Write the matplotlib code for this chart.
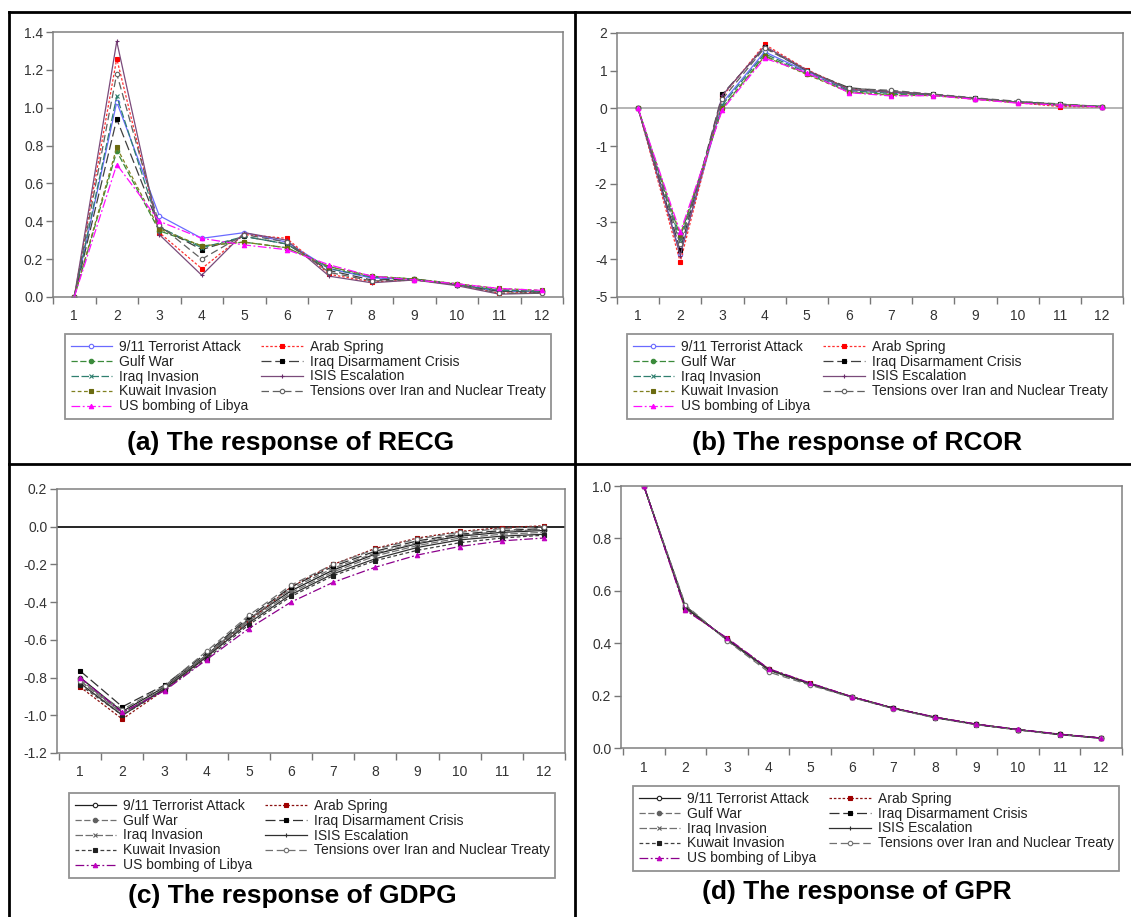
import matplotlib
matplotlib.use('Agg')
import matplotlib.pyplot as plt
from matplotlib.lines import Line2D
import numpy as np

plt.rcParams['font.family'] = ['Liberation Sans', 'DejaVu Sans']
plt.rcParams['axes.unicode_minus'] = False

# Horizon 1..12
periods = list(range(1, 13))

series_names = [
    '9/11 Terrorist Attack', 'Arab Spring', 'Gulf War',
    'Iraq Disarmament Crisis', 'Iraq Invasion', 'ISIS Escalation',
    'Kuwait Invasion', 'Tensions over Iran and Nuclear Treaty',
    'US bombing of Libya',
]

# (a) response of RECG, one row per series (same order as series_names)
recg = [
    [0, 1.03, 0.43, 0.31, 0.34, 0.29, 0.15, 0.10, 0.095, 0.065, 0.03, 0.03],
    [0, 1.26, 0.34, 0.15, 0.33, 0.31, 0.12, 0.08, 0.09, 0.065, 0.02, 0.025],
    [0, 0.77, 0.35, 0.27, 0.29, 0.26, 0.16, 0.11, 0.095, 0.07, 0.04, 0.03],
    [0, 0.94, 0.37, 0.25, 0.32, 0.28, 0.14, 0.09, 0.095, 0.065, 0.03, 0.025],
    [0, 1.06, 0.37, 0.26, 0.32, 0.28, 0.15, 0.105, 0.095, 0.065, 0.035, 0.03],
    [0, 1.35, 0.33, 0.115, 0.34, 0.30, 0.11, 0.075, 0.09, 0.06, 0.015, 0.02],
    [0, 0.79, 0.36, 0.27, 0.29, 0.26, 0.16, 0.11, 0.095, 0.07, 0.045, 0.035],
    [0, 1.18, 0.38, 0.20, 0.33, 0.29, 0.13, 0.085, 0.09, 0.065, 0.02, 0.02],
    [0, 0.70, 0.40, 0.31, 0.275, 0.25, 0.17, 0.11, 0.09, 0.07, 0.045, 0.035],
]

# (b) response of RCOR
rcor = [
    [0, -3.85, 0.15, 1.50, 0.98, 0.50, 0.42, 0.36, 0.26, 0.17, 0.10, 0.05],
    [0, -4.07, 0.32, 1.70, 1.03, 0.52, 0.42, 0.36, 0.25, 0.15, 0.05, 0.04],
    [0, -3.40, 0.02, 1.40, 0.92, 0.44, 0.37, 0.35, 0.25, 0.16, 0.10, 0.05],
    [0, -3.75, 0.38, 1.62, 1.00, 0.55, 0.45, 0.37, 0.27, 0.18, 0.11, 0.05],
    [0, -3.50, 0.10, 1.45, 0.95, 0.47, 0.40, 0.36, 0.26, 0.17, 0.10, 0.05],
    [0, -3.90, 0.35, 1.65, 1.02, 0.50, 0.44, 0.37, 0.26, 0.16, 0.08, 0.04],
    [0, -3.35, 0.00, 1.38, 0.90, 0.43, 0.35, 0.34, 0.24, 0.15, 0.10, 0.05],
    [0, -3.60, 0.25, 1.60, 1.00, 0.53, 0.48, 0.38, 0.28, 0.19, 0.12, 0.05],
    [0, -3.28, -0.03, 1.33, 0.95, 0.42, 0.33, 0.34, 0.24, 0.14, 0.09, 0.04],
]

# (c) response of GDPG
gdpg = [
    [-0.80, -0.98, -0.85, -0.68, -0.49, -0.34, -0.23, -0.145, -0.09, -0.05, -0.03, -0.02],
    [-0.85, -1.02, -0.865, -0.69, -0.50, -0.32, -0.20, -0.115, -0.06, -0.025, -0.005, 0.005],
    [-0.81, -0.99, -0.855, -0.68, -0.49, -0.33, -0.22, -0.14, -0.085, -0.045, -0.025, -0.015],
    [-0.765, -0.955, -0.84, -0.67, -0.48, -0.32, -0.21, -0.13, -0.075, -0.04, -0.02, -0.01],
    [-0.82, -0.99, -0.86, -0.685, -0.50, -0.35, -0.24, -0.155, -0.10, -0.06, -0.04, -0.03],
    [-0.83, -1.00, -0.86, -0.69, -0.51, -0.36, -0.25, -0.17, -0.11, -0.07, -0.05, -0.04],
    [-0.84, -1.00, -0.865, -0.70, -0.52, -0.37, -0.26, -0.18, -0.125, -0.085, -0.06, -0.045],
    [-0.82, -0.97, -0.845, -0.66, -0.47, -0.31, -0.20, -0.12, -0.065, -0.03, -0.01, 0.0],
    [-0.80, -0.985, -0.87, -0.705, -0.54, -0.40, -0.295, -0.215, -0.15, -0.105, -0.075, -0.06],
]

# (d) response of GPR
gpr = [
    [1.0, 0.535, 0.415, 0.300, 0.245, 0.195, 0.152, 0.117, 0.090, 0.070, 0.052, 0.038],
    [1.0, 0.528, 0.418, 0.302, 0.247, 0.196, 0.153, 0.118, 0.091, 0.070, 0.053, 0.038],
    [1.0, 0.540, 0.413, 0.298, 0.244, 0.194, 0.151, 0.116, 0.090, 0.069, 0.052, 0.037],
    [1.0, 0.538, 0.414, 0.299, 0.245, 0.195, 0.152, 0.117, 0.090, 0.070, 0.052, 0.038],
    [1.0, 0.532, 0.416, 0.301, 0.246, 0.195, 0.152, 0.117, 0.090, 0.070, 0.052, 0.038],
    [1.0, 0.536, 0.415, 0.300, 0.245, 0.195, 0.152, 0.117, 0.090, 0.070, 0.052, 0.038],
    [1.0, 0.542, 0.412, 0.297, 0.243, 0.194, 0.151, 0.116, 0.089, 0.069, 0.051, 0.037],
    [1.0, 0.546, 0.410, 0.290, 0.240, 0.193, 0.150, 0.115, 0.089, 0.069, 0.051, 0.037],
    [1.0, 0.526, 0.420, 0.303, 0.248, 0.196, 0.153, 0.118, 0.091, 0.071, 0.053, 0.038],
]

# line styles (colour panels a/b, grey panels c/d)
colors_col = ['#6a6aff', '#ff3030', '#3a8a3a', '#404040', '#2f7f6f',
              '#7a4a7a', '#808020', '#606060', '#ff10ff']
colors_mono = ['#202020', '#8b1010', '#707070', '#303030', '#707070',
               '#303030', '#404040', '#707070', '#8b008b']
mface_col = ['white', '#ff0000', '#3a8a3a', '#000000', '#2f7f6f',
             '#6b2d6b', '#6b6b10', 'white', '#ff00ff']
mface_mono = ['white', '#a00000', '#606060', '#000000', '#606060',
              '#303030', '#202020', 'white', '#c000c0']
styles = ['-', (0, (2, 1.5)), (0, (5, 2)), (0, (8, 3)), (0, (6, 2)),
          '-', (0, (3, 2)), (0, (6, 3)), (0, (7, 2, 1.5, 2))]
markers = ['o', 's', 'o', 's', 'x', '+', 's', 'o', '^']

W, H = 1131, 917
fig = plt.figure(figsize=(W / 100, H / 100), dpi=100)


def px_axes(l, t, r, b):
    return fig.add_axes([l / W, 1 - b / H, (r - l) / W, (b - t) / H])


def draw_panel(box, data, mono, ylim, yticks, yfmt, xlim, zero, leg_xy, title, title_xy):
    ax = px_axes(*box)
    cols = colors_mono if mono else colors_col
    faces = mface_mono if mono else mface_col
    handles = []
    for i, name in enumerate(series_names):
        ln, = ax.plot(periods, data[i], color=cols[i], linestyle=styles[i],
                      linewidth=0.9, marker=markers[i], markersize=3.2,
                      markerfacecolor=faces[i], markeredgecolor=cols[i] if faces[i] == 'white' else faces[i],
                      markeredgewidth=0.8, label=name)
        handles.append(ln)
    if zero is not None:
        ax.axhline(0, color=zero, linewidth=1.2, zorder=0)
    ax.set_xlim(*xlim)
    ax.set_ylim(*ylim)
    ax.set_xticks(periods)
    ax.set_xticklabels([str(p) for p in periods])
    ax.set_xticks(np.arange(0.5, 13, 1.0), minor=True)
    ax.tick_params(axis='x', which='major', length=0, pad=9, labelsize=10, labelcolor='#333333')
    ax.tick_params(axis='x', which='minor', length=5, direction='out', color='#777777', width=1)
    ax.set_yticks(yticks)
    ax.set_yticklabels([yfmt.format(round(v, 1) + 0.0) for v in yticks])
    ax.tick_params(axis='y', length=5, direction='out', color='#777777', width=1,
                   labelsize=10, labelcolor='#333333', pad=2)
    for sp in ax.spines.values():
        sp.set_color('#808080')
        sp.set_linewidth(1.1)
    # legend: column-major order gives the row layout of the original
    order = [0, 2, 4, 6, 8, 1, 3, 5, 7]
    leg = fig.legend([handles[k] for k in order], [series_names[k] for k in order],
                     loc='upper left', bbox_to_anchor=(leg_xy[0] / W, 1 - leg_xy[1] / H),
                     ncol=2, fontsize=10, frameon=True, fancybox=False,
                     edgecolor='#777777', borderpad=0.4, labelspacing=0.07,
                     handlelength=3.0, handletextpad=0.5, columnspacing=0.9,
                     borderaxespad=0)
    leg.get_frame().set_linewidth(1.3)
    for t in leg.get_texts():
        t.set_color('#222222')
    fig.text(title_xy[0] / W, 1 - title_xy[1] / H, title, ha='center', va='center',
             fontsize=19, fontweight='bold', color='black')
    return ax


draw_panel((53, 32, 563, 297), recg, False, (0, 1.4), np.arange(0, 1.41, 0.2), '{:.1f}',
           (0.5, 12.35), None, (65, 334), '(a) The response of RECG', (291, 443))
draw_panel((617, 33, 1123, 297), rcor, False, (-5, 2), list(range(-5, 3)), '{:.0f}',
           (0.5, 12.35), '#a8a8a8', (627, 334), '(b) The response of RCOR', (857, 443))
draw_panel((57, 489, 565, 753), gdpg, True, (-1.2, 0.2), np.arange(-1.2, 0.21, 0.2), '{:.1f}',
           (0.45, 12.5), '#000000', (69, 793), '(c) The response of GDPG', (292, 896))
draw_panel((621, 486, 1122, 748), gpr, True, (0, 1.0), np.arange(0, 1.01, 0.2), '{:.1f}',
           (0.45, 12.45), None, (633, 786), '(d) The response of GPR', (857, 892))

# table-like cell borders
border = dict(color='black', linewidth=2.0, transform=fig.transFigure)
fig.add_artist(Line2D([9 / W, 9 / W], [0, 1 - 12 / H], **border))
fig.add_artist(Line2D([9 / W, 1], [1 - 12 / H, 1 - 12 / H], **border))
fig.add_artist(Line2D([575 / W, 575 / W], [0, 1 - 12 / H], **border))
fig.add_artist(Line2D([9 / W, 1], [1 - 464 / H, 1 - 464 / H], **border))

fig.savefig('out.png', dpi=100, facecolor='white')
